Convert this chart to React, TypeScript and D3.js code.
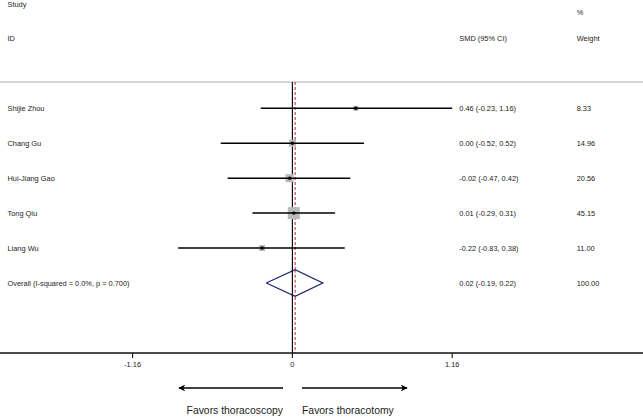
import React from "react";
import * as d3 from "d3";

const studies = ["Shijie Zhou", "Chang Gu", "Hui-Jiang Gao", "Tong Qiu", "Liang Wu"];
const smd = [0.46, 0.0, -0.02, 0.01, -0.22];
const lower = [-0.23, -0.52, -0.47, -0.29, -0.83];
const upper = [1.16, 0.52, 0.42, 0.31, 0.38];
const weights = [8.33, 14.96, 20.56, 45.15, 11.0];
const ciLabels = [
  "0.46 (-0.23, 1.16)",
  "0.00 (-0.52, 0.52)",
  "-0.02 (-0.47, 0.42)",
  "0.01 (-0.29, 0.31)",
  "-0.22 (-0.83, 0.38)",
];
const weightLabels = ["8.33", "14.96", "20.56", "45.15", "11.00"];
const overallLabel = "Overall  (I-squared = 0.0%, p = 0.700)";
const overallEst = 0.02;
const overallLo = -0.19;
const overallHi = 0.22;
const overallCI = "0.02 (-0.19, 0.22)";
const overallWeight = "100.00";
const tickValues = [-1.16, 0, 1.16];
const tickLabels = ["-1.16", "0", "1.16"];

const W = 643;
const H = 420;
const FONT = "'Liberation Sans', Arial, sans-serif";

export default function App() {
  const x = d3.scaleLinear().domain([-1.16, 1.16]).range([132.6, 452.2]);
  const y = d3.scaleLinear().domain([0, 5]).range([108.3, 283]);
  const box = d3.scaleSqrt().domain([0, 45.15]).range([0, 12]);
  const topY = 82;
  const axisY = 353;
  const fs = 7.4;
  const tc = "#222";
  const x0 = x(0);
  const xo = x(overallEst);
  const yo = y(5);
  const dh = 13.3;
  const diamond = d3.line()([
    [x(overallLo), yo],
    [xo, yo - dh],
    [x(overallHi), yo],
    [xo, yo + dh],
    [x(overallLo), yo],
  ] as [number, number][]);
  const arrowY = 388;

  return (
    <svg
      width={W}
      height={H}
      style={{ position: "absolute", left: 0, top: 0, background: "#fff" }}
      fontFamily={FONT}
    >
      <rect x={0} y={0} width={W} height={H} fill="#fff" />
      <defs>
        <marker id="ah" viewBox="0 0 10 10" refX="9" refY="5" markerWidth="7" markerHeight="7" orient="auto-start-reverse" markerUnits="userSpaceOnUse">
          <path d="M0,0 L10,5 L0,10 L3,5 Z" fill="#000" />
        </marker>
      </defs>
      {/* headers */}
      <text x={7.5} y={4} dy="0.35em" fontSize={fs} fill={tc}>Study</text>
      <text x={7.5} y={38.3} dy="0.35em" fontSize={fs} fill={tc}>ID</text>
      <text x={459.3} y={38.3} dy="0.35em" fontSize={fs} fill={tc}>SMD (95% CI)</text>
      <text x={576.7} y={12} dy="0.35em" fontSize={fs} fill={tc}>%</text>
      <text x={576.7} y={38.3} dy="0.35em" fontSize={fs} fill={tc}>Weight</text>
      <line x1={0} x2={W} y1={topY} y2={topY} stroke="#c8c8c8" strokeWidth={1.3} />

      {/* null line and overall dashed line */}
      <line x1={x0} x2={x0} y1={topY} y2={axisY} stroke="#111" strokeWidth={1.2} />
      <line x1={xo} x2={xo} y1={topY} y2={axisY} stroke="#c0243a" strokeWidth={1} strokeDasharray="3,2" />

      {studies.map((s, i) => {
        const yy = y(i);
        const b = box(weights[i]);
        return (
          <g key={s}>
            <text x={7.5} y={yy} dy="0.35em" fontSize={fs} fill={tc}>{s}</text>
            <rect x={x(smd[i]) - b / 2} y={yy - b / 2} width={b} height={b} fill="#b9b9b9" />
            <line x1={x(lower[i])} x2={x(upper[i])} y1={yy} y2={yy} stroke="#000" strokeWidth={1.5} />
            <circle cx={x(smd[i])} cy={yy} r={1.7} fill="#000" />
            <text x={459.3} y={yy} dy="0.35em" fontSize={fs} fill={tc}>{ciLabels[i]}</text>
            <text x={576.7} y={yy} dy="0.35em" fontSize={fs} fill={tc}>{weightLabels[i]}</text>
          </g>
        );
      })}

      <text x={7.5} y={yo} dy="0.35em" fontSize={fs} fill={tc}>{overallLabel}</text>
      <path d={diamond || ""} fill="#fff" stroke="#1f2a6b" strokeWidth={1.3} />
      <line x1={x0} x2={x0} y1={yo - dh} y2={yo + dh} stroke="#111" strokeWidth={1.2} />
      <line x1={xo} x2={xo} y1={yo - dh} y2={yo + dh} stroke="#c0243a" strokeWidth={1} strokeDasharray="3,2" />
      <text x={459.3} y={yo} dy="0.35em" fontSize={fs} fill={tc}>{overallCI}</text>
      <text x={576.7} y={yo} dy="0.35em" fontSize={fs} fill={tc}>{overallWeight}</text>

      {/* axis */}
      <line x1={0} x2={W} y1={axisY} y2={axisY} stroke="#111" strokeWidth={1.3} />
      {tickValues.map((t, i) => (
        <g key={i}>
          <line x1={x(t)} x2={x(t)} y1={axisY} y2={axisY + 5} stroke="#111" strokeWidth={1.1} />
          <text x={x(t)} y={axisY + 11.5} dy="0.35em" textAnchor="middle" fontSize={fs} fill={tc}>{tickLabels[i]}</text>
        </g>
      ))}

      {/* arrows */}
      <line x1={283} x2={179} y1={arrowY} y2={arrowY} stroke="#000" strokeWidth={1.3} markerEnd="url(#ah)" />
      <line x1={302} x2={407} y1={arrowY} y2={arrowY} stroke="#000" strokeWidth={1.3} markerEnd="url(#ah)" />
      <text x={283} y={410} dy="0.35em" textAnchor="end" fontSize={10.4} fill={tc}>Favors thoracoscopy</text>
      <text x={302} y={410} dy="0.35em" fontSize={10.4} fill={tc}>Favors thoracotomy</text>
    </svg>
  );
}
